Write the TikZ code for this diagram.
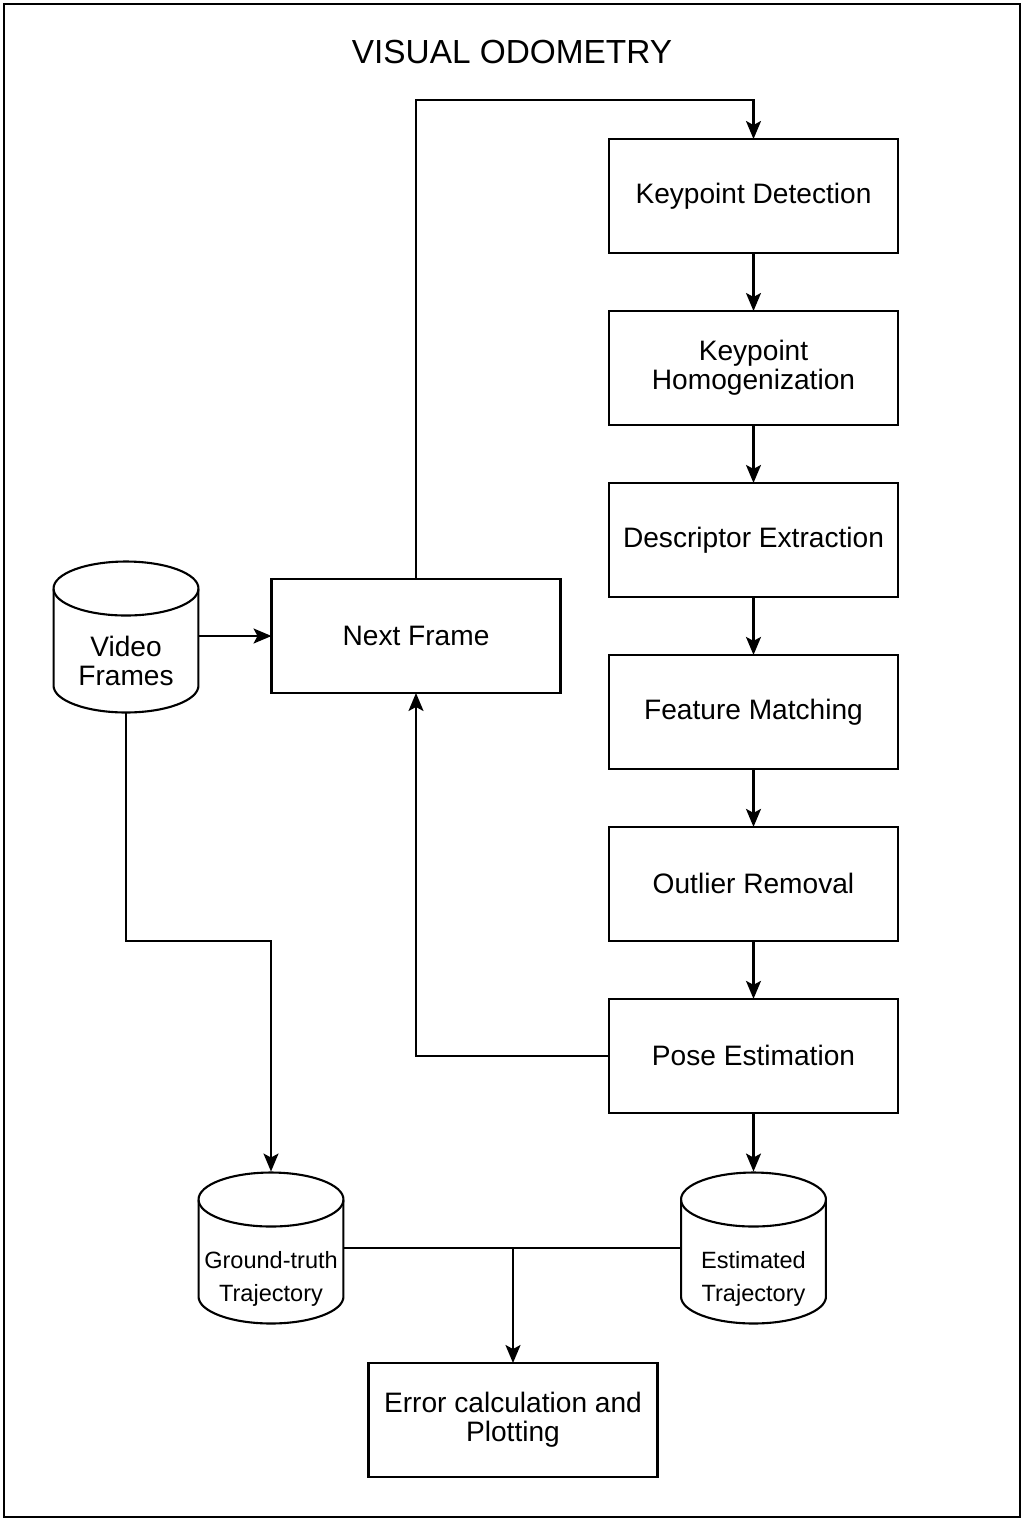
\documentclass[tikz,border=0pt]{standalone}
\usepackage{fontspec}
\setmainfont{Liberation Sans}
\usetikzlibrary{arrows.meta,positioning}

\begin{document}
\begin{tikzpicture}[
  x=0.02cm, y=-0.02cm,
  font=\fontsize{16}{16.5}\selectfont,
  stage/.style={draw, line width=1.2pt, align=center, minimum width=5.78cm, minimum height=2.28cm, inner sep=2pt, outer sep=0pt},
  store/.style={rectangle, align=center, minimum width=2.94cm, minimum height=3.06cm, inner sep=0pt, outer sep=0pt, text height=55.5pt, text depth=0pt,
    path picture={
      \draw[line width=1.2pt] ([yshift=0.97cm]path picture bounding box.center) ellipse [x radius=1.45cm, y radius=0.54cm];
      \draw[line width=1.2pt] ([shift={(-1.45cm,0.97cm)}]path picture bounding box.center) -- ++(0cm,-1.94cm)
        arc[start angle=180, end angle=360, x radius=1.45cm, y radius=0.54cm] -- ++(0cm,1.94cm);
    }},
  small/.style={font=\fontsize{13.4}{18.7}\selectfont, text height=60.5pt},
  arrow/.style={-{Stealth[length=3.6mm, width=3mm, inset=0.8mm]}, line width=1.2pt},
  link/.style={line width=1.2pt},
  node distance=1.16cm and 1.44cm
]
\useasboundingbox (0,0) rectangle (1026,1522);
\draw[line width=1.2pt] (4,4) rectangle (1020,1517);
\node[font=\fontsize{19}{20}\selectfont] (title) at (512,52) {VISUAL ODOMETRY};

% pipeline
\node[stage] (kd) at (753.5,196) {Keypoint Detection};
\node[stage, below=of kd] (kh) {Keypoint\\Homogenization};
\node[stage, below=of kh] (de) {Descriptor Extraction};
\node[stage, below=of de] (fm) {Feature Matching};
\node[stage, below=of fm] (outl) {Outlier Removal};
\node[stage, below=of outl] (pe) {Pose Estimation};

\draw[arrow] (kd) -- (kh);
\draw[arrow] (kh) -- (de);
\draw[arrow] (de) -- (fm);
\draw[arrow] (fm) -- (outl);
\draw[arrow] (outl) -- (pe);

% input
\node[stage] (nf) at (416,636) {Next Frame};
\node[store] (vf) at (126,637) {Video\\Frames};
\draw[arrow] (vf.east |- nf) -- (nf);
\coordinate (loopTop) at (416,100);
\draw[arrow] (nf.north) -- (loopTop) -| (kd.north);
\draw[arrow] (pe.west) -| (nf.south);

% trajectories
\node[store, small] (gt) at (271,1248) {Ground-truth\\Trajectory};
\node[store, small] (est) at (753.5,1248) {Estimated\\Trajectory};
\coordinate (gtBend) at (126,941);
\draw[arrow] (vf.south) -- (gtBend) -| (gt.north);
\draw[arrow] (pe) -- (est);

\node[stage] (err) at (513,1420) {Error calculation and\\Plotting};
\coordinate (joinPt) at (err.north |- gt.center);
\draw[link] (gt.east) -- (est.west);
\draw[arrow] (joinPt) -- (err);
\end{tikzpicture}
\end{document}
